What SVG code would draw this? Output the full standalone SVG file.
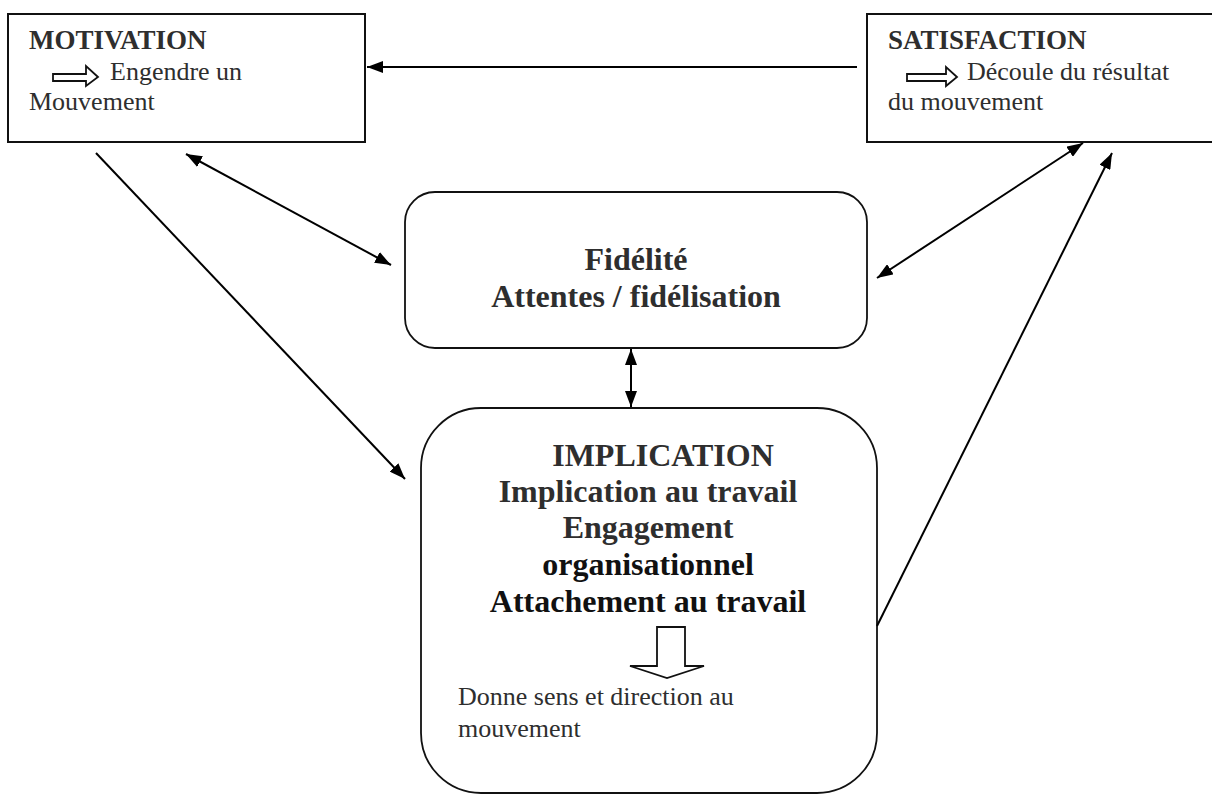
<svg xmlns="http://www.w3.org/2000/svg" width="1212" height="794" viewBox="0 0 1212 794">
<defs>
<style>
.box{fill:#fff;stroke:#111;stroke-width:2}
.rbox{fill:#fff;stroke:#111;stroke-width:1.8}
.t{font-family:"Liberation Serif","Times New Roman",serif;fill:#2e2e2e}
.b{font-weight:bold}
.s26{font-size:26px}
.s27{font-size:27px}
.s32{font-size:32px}
.conn{stroke:#000;stroke-width:2;fill:none}
.hollow{fill:#fff;stroke:#111;stroke-width:1.8;stroke-linejoin:miter}
</style>
<marker id="ah" viewBox="0 0 16 12" refX="16" refY="6" markerWidth="16" markerHeight="12" markerUnits="userSpaceOnUse" orient="auto-start-reverse">
<path d="M0,0 L16,6 L0,12 Z" fill="#000"/>
</marker>
</defs>
<rect width="1212" height="794" fill="#fff"/>

<g id="motivation">
<rect class="box" x="8" y="14" width="357" height="128"/>
<text class="t b s27" x="29" y="49">MOTIVATION</text>
<path class="hollow" d="M53,74 H86 V66 L98,77 L86,86 V81 H53 Z"/>
<text class="t s26" x="110" y="80">Engendre un</text>
<text class="t s26" x="29" y="110">Mouvement</text>
</g>

<g id="satisfaction">
<rect class="box" x="867" y="14" width="360" height="128"/>
<text class="t b s27" x="888" y="49">SATISFACTION</text>
<path class="hollow" d="M907,74 H946 V67 L957,77 L946,86 V81 H907 Z"/>
<text class="t s26" x="967" y="80">Découle du résultat</text>
<text class="t s26" x="888" y="110">du mouvement</text>
</g>

<g id="fidelite">
<rect class="rbox" x="405" y="192" width="462" height="156" rx="30" ry="30"/>
<text class="t b s32" x="636" y="270" text-anchor="middle">Fidélité</text>
<text class="t b s32" x="636" y="307" text-anchor="middle">Attentes / fidélisation</text>
</g>

<g id="implication">
<rect class="rbox" x="421" y="408" width="456" height="385" rx="60" ry="60"/>
<text class="t b s32" x="663" y="466" text-anchor="middle">IMPLICATION</text>
<text class="t b s32" x="648" y="502" text-anchor="middle">Implication au travail</text>
<text class="t b s32" x="648" y="538" text-anchor="middle">Engagement</text>
<text class="t b s32" x="648" y="575" text-anchor="middle" style="fill:#111">organisationnel</text>
<text class="t b s32" x="648" y="612" text-anchor="middle" style="fill:#111">Attachement au travail</text>
<path class="hollow" d="M657,627 H685 V666 H704 L667,678 L630,666 H657 Z"/>
<text class="t s26" x="458" y="705">Donne sens et direction au</text>
<text class="t s26" x="458" y="737">mouvement</text>
</g>

<g id="connectors">
<line class="conn" x1="857" y1="67" x2="367" y2="67" marker-end="url(#ah)"/>
<line class="conn" x1="96" y1="153" x2="405" y2="479" marker-end="url(#ah)"/>
<line class="conn" x1="186" y1="154" x2="391" y2="265" marker-start="url(#ah)" marker-end="url(#ah)"/>
<line class="conn" x1="1083" y1="143" x2="877" y2="278" marker-start="url(#ah)" marker-end="url(#ah)"/>
<line class="conn" x1="631" y1="349" x2="631" y2="407" marker-start="url(#ah)" marker-end="url(#ah)"/>
<line class="conn" x1="877" y1="626" x2="1112" y2="153" marker-end="url(#ah)"/>
</g>
</svg>
